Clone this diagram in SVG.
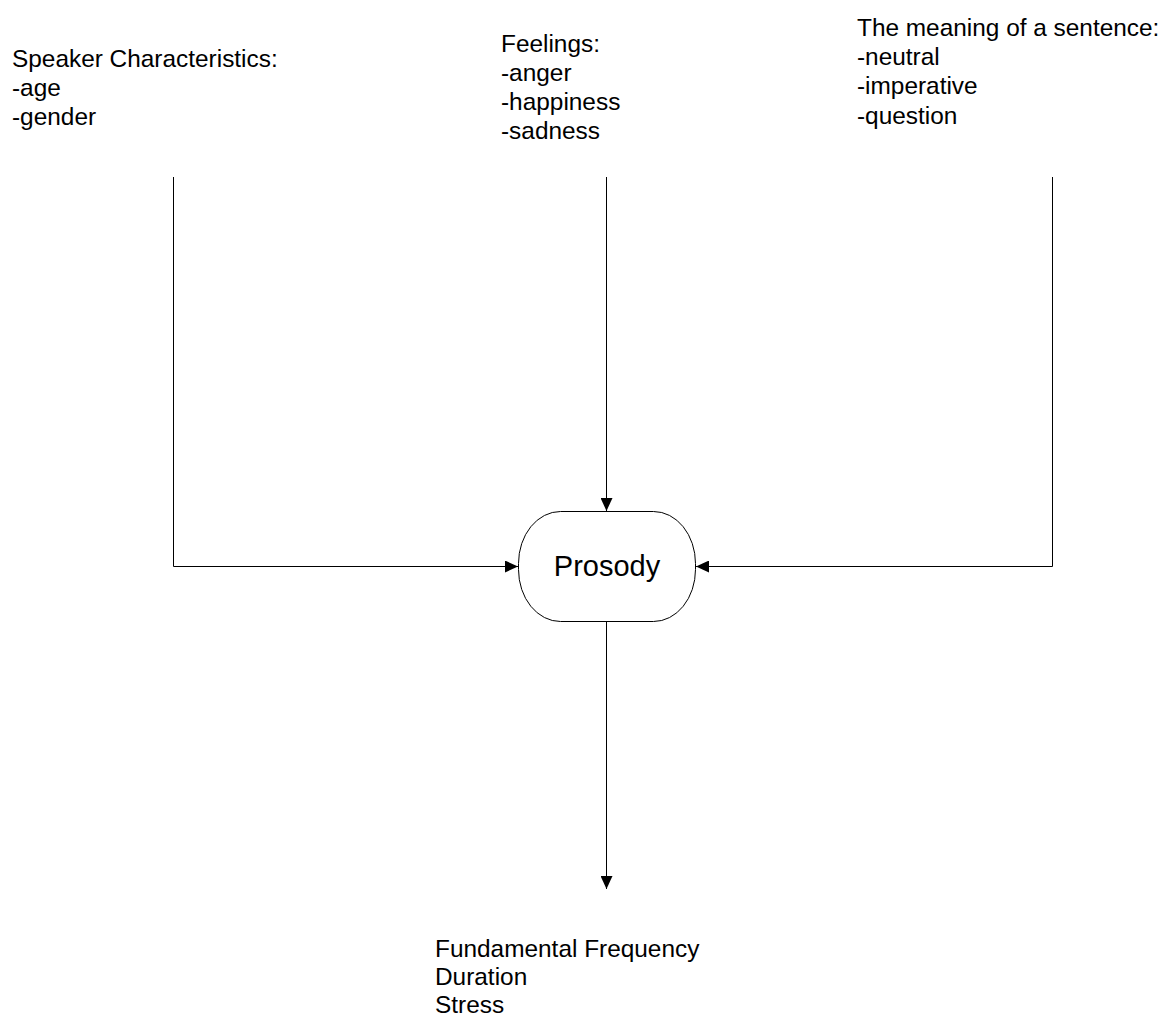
<svg xmlns="http://www.w3.org/2000/svg" width="1167" height="1018" viewBox="0 0 1167 1018">
<style>
text{font-family:"Liberation Sans",Arial,sans-serif;font-size:24.4px;fill:#000}
.ln{fill:none;stroke:#000;stroke-width:1}
.node{fill:#fff;stroke:#000;stroke-width:1}
</style>
<defs>
<marker id="ah" markerWidth="13" markerHeight="12" refX="13" refY="6" orient="auto" markerUnits="userSpaceOnUse">
<path d="M0,0 L13,6 L0,12 Z" fill="#000"/>
</marker>
</defs>
<rect width="1167" height="1018" fill="#fff"/>
<g id="connectors">
<path class="ln" d="M173.5,177 V566.5 H518" marker-end="url(#ah)"/>
<path class="ln" d="M606.5,177 V511" marker-end="url(#ah)"/>
<path class="ln" d="M1052.5,177 V566.5 H696" marker-end="url(#ah)"/>
<path class="ln" d="M606.5,622 V889" marker-end="url(#ah)"/>
</g>
<g id="speaker">
<text x="12" y="67">Speaker Characteristics:</text>
<text x="12" y="96">-age</text>
<text x="12" y="125">-gender</text>
</g>
<g id="feelings">
<text x="501" y="52">Feelings:</text>
<text x="501" y="81">-anger</text>
<text x="501" y="110">-happiness</text>
<text x="501" y="139">-sadness</text>
</g>
<g id="meaning">
<text x="857" y="36">The meaning of a sentence:</text>
<text x="857" y="65">-neutral</text>
<text x="857" y="94">-imperative</text>
<text x="857" y="124">-question</text>
</g>
<g id="prosody">
<rect class="node" x="518.5" y="511.5" width="177" height="110" rx="42" ry="52"/>
<text x="607" y="575.5" text-anchor="middle" style="font-size:29px">Prosody</text>
</g>
<g id="output">
<text x="435" y="957">Fundamental Frequency</text>
<text x="435" y="985">Duration</text>
<text x="435" y="1013">Stress</text>
</g>
</svg>
